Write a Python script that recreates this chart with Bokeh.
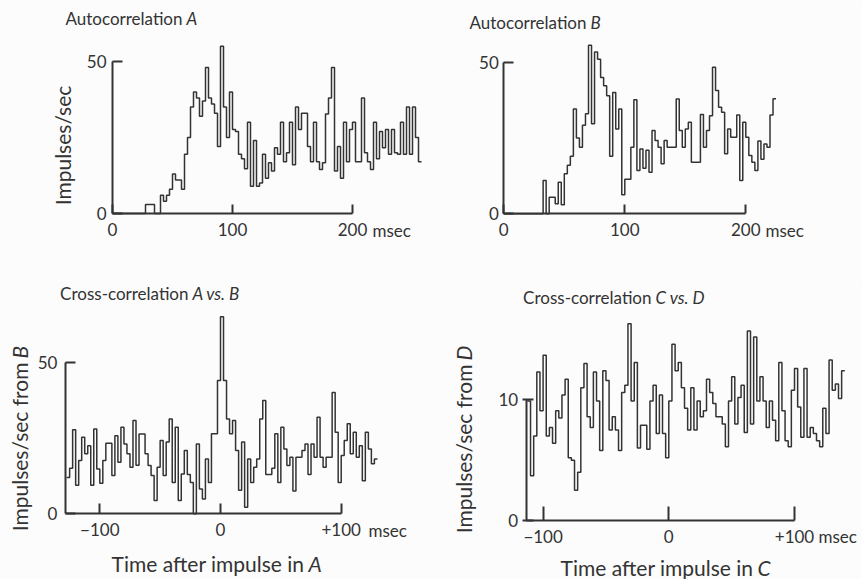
import math
from bokeh.plotting import figure
from bokeh.models import Label, FixedTicker, Range1d
from bokeh.layouts import gridplot
from bokeh.embed import file_html
from bokeh.resources import INLINE

# ---------------- data (impulses/sec per 2.5 ms bin) ----------------
BIN_MS = 2.5

auto_a_start = 0.0
auto_a = [0, 0, 0, 0, 0, 0, 0, 0, 0, 0, 0, 3, 3, 3, 0, 0, 6, 4, 6, 8,
          13, 11, 11, 8, 19.5, 25, 35, 40, 38, 32, 37, 48, 38, 36, 33, 22, 55, 35, 25, 40,
          27.6, 27, 19.5, 18, 14.7, 30, 9, 24, 9, 10, 19.5, 11.6, 16.7, 14, 21.6, 19.5, 30, 17, 20, 30,
          16, 35, 27.6, 33, 33, 22, 17, 30, 17, 14.5, 16.7, 32.7, 38, 48, 14, 22, 11.6, 30, 17, 27.6,
          30, 17, 17, 38, 20, 17, 14.5, 30, 18, 27, 21.6, 27.6, 19.5, 27.6, 20, 19.5, 30, 19.5, 35, 19.5,
          35, 25, 17]

auto_b_start = 0.0
auto_b = [0, 0, 0, 0, 0, 0, 0, 0, 0, 0, 0, 0, 0, 11, 0, 5.5, 5.5, 3.3, 10.4, 3,
          13.2, 16, 19, 34.6, 25, 22, 29.2, 33, 55.6, 29.7, 53.4, 51, 45, 42.3, 39, 19, 40, 28, 34.6, 6.3,
          11.4, 11.4, 22, 37.6, 14.3, 21.4, 15, 21, 13.7, 27.5, 24.2, 22, 16.5, 24.2, 22, 22, 22, 37.9, 27.5, 22,
          28, 30.2, 17, 17, 17, 32.8, 22, 27.5, 32.4, 48.4, 40.7, 35.2, 33.5, 19.8, 28, 25.3, 25.3, 32.6, 11, 30.2,
          25.3, 19.2, 17, 14.3, 24, 18, 23, 22, 32.6, 38]

cross_ab_start = -127.5
cross_ab = [12, 15, 27.7, 9.4, 17.6, 25.3, 19.8, 22.5, 9.4, 28, 14.8, 10.1, 17.6, 23.3, 23.3, 12.6, 25.8, 17, 28.6, 23,
            19.8, 15.4, 30.8, 16, 26.3, 26.3, 19.8, 15.9, 12.6, 4.4, 15.4, 24.2, 12.6, 23.7, 31.3, 10.3, 28.6, 4.4, 13.1, 20.9,
            13, 10.3, 0, 23, 8.2, 4.9, 18.1, 10.3, 26.4, 26.4, 44, 65, 44, 31.3, 26.4, 30.8, 20.9, 7.8, 23.7, 2.2,
            18.1, 10.3, 15.4, 18.1, 31.3, 37.4, 13, 13, 15, 26.4, 10.3, 28.6, 21.4, 15.9, 18.7, 7.5, 18.7, 18.7, 20.9, 23,
            13, 23, 18.7, 31.9, 18.7, 15.4, 18.7, 18.7, 40, 26.9, 10.3, 19.2, 24.2, 29.7, 19.8, 26.9, 18.7, 22.5, 10.9, 26.9,
            21.4, 16.5, 18.1]

cross_cd_start = -112.5
cross_cd = [9.9, 3.7, 7, 12.3, 9.1, 13.7, 7, 7.7, 6.4, 9.1, 8.5, 10.4, 11.7, 5.2, 5, 2.5, 4, 11, 13, 8.6,
            7.7, 12.3, 9.9, 5.8, 12.4, 11.6, 7.5, 8.6, 7.5, 5.8, 10.6, 11.2, 16.3, 9.9, 13.1, 6, 7.9, 7.9, 5.9, 9.9,
            11.2, 7.2, 10.4, 7.2, 5.2, 9.9, 14.6, 12.4, 13.1, 11, 9.3, 7.5, 11, 7.5, 9.9, 8.6, 9.1, 11.7, 10.6, 9.7,
            8.6, 8.6, 8, 6.1, 9.9, 11.9, 8, 10.2, 11.2, 7.3, 15.7, 8, 15.2, 9.9, 11.9, 9.9, 7.7, 9.9, 8.3, 6.6,
            13.1, 9.1, 6.6, 6.1, 10.8, 12.6, 9.4, 6.9, 12.6, 6.9, 7.7, 7.2, 6.6, 6.1, 9.3, 7.2, 13.3, 10.8, 11.3, 10.1,
            12.4]

auto_xticks = [0, 100, 200]
auto_xlabels = ["0", "100", "200"]
auto_yticks = [0, 50]
cross_ab_xticks = [-100, 0, 100]
cross_ab_xlabels = ["\u2212100", "0", "+100"]
cross_ab_yticks = [0, 50]
cross_cd_xticks = [-100, 0, 100]
cross_cd_xlabels = ["\u2212100", "0", "+100"]
cross_cd_yticks = [0, 10]

# ---------------- style ----------------
INK = "#333333"
BG = "#fcfcfc"
FONT = "Lato"
TICK_PX = "17px"
TITLE_SIZE = 17
AXTITLE_SIZE = 21
LW = 1.5


def steps(start, vals):
    xs, ys = [], []
    for i, v in enumerate(vals):
        x0 = start + i * BIN_MS
        xs += [x0, x0 + BIN_MS]
        ys += [v, v]
    return xs, ys


def panel(fig_x, fig_y, W, H, px_x0, xscale, px_y0, yscale):
    """px_x0 / px_y0: page pixel where data x=0 / y=0 fall."""
    def to_data(page_x, page_y):
        return (page_x - px_x0) / xscale, (px_y0 - page_y) / yscale
    x_lo, _ = to_data(fig_x, 0)
    x_hi, _ = to_data(fig_x + W, 0)
    _, y_lo = to_data(0, fig_y + H)
    _, y_hi = to_data(0, fig_y)
    p = figure(width=W, height=H, output_backend="svg", toolbar_location=None,
               x_range=Range1d(x_lo, x_hi), y_range=Range1d(y_lo, y_hi),
               min_border=0, min_border_left=0, min_border_right=0,
               min_border_top=0, min_border_bottom=0,
               background_fill_color=BG, border_fill_color=BG,
               outline_line_color=None)
    p.grid.visible = False
    return p, to_data


def style_axes(p, xticks, xlabels, xbounds, yticks, ybounds, xtick_in, ytick_in,
               ytick_out=0, ystandoff=6):
    xa = p.xaxis[0]
    xa.ticker = FixedTicker(ticks=xticks)
    xa.major_label_overrides = {t: l for t, l in zip(xticks, xlabels)}
    xa.bounds = xbounds
    xa.fixed_location = 0
    ya = p.yaxis[0]
    ya.ticker = FixedTicker(ticks=yticks)
    ya.major_label_overrides = {t: str(t) for t in yticks}
    ya.bounds = ybounds
    ya.fixed_location = xbounds[0]
    for ax in (xa, ya):
        ax.axis_line_color = INK
        ax.axis_line_width = 2
        ax.major_tick_line_color = INK
        ax.major_tick_line_width = 2
        ax.minor_tick_line_color = None
        ax.major_label_text_font = FONT
        ax.major_label_text_font_size = TICK_PX
        ax.major_label_text_color = INK
    xa.major_label_standoff = 9
    ya.major_label_standoff = ystandoff
    xa.major_tick_in = xtick_in
    xa.major_tick_out = 0
    ya.major_tick_in = ytick_in
    ya.major_tick_out = ytick_out


def text(p, to_data, page_x, page_y, s, size, align="center", italic=False, angle=0.0):
    x, y = to_data(page_x, page_y)
    p.add_layout(Label(x=x, y=y, text=s, text_font=FONT, text_font_size=f"{size}px",
                       text_color=INK, text_align=align, text_baseline="middle",
                       angle=angle, angle_units="rad",
                       text_font_style="italic" if italic else "normal"))


# ---------- Autocorrelation A ----------
pa, da = panel(0, 0, 431, 280, 112, 1.2, 213, 3.04)
xs, ys = steps(auto_a_start, auto_a)
pa.line(xs, ys, line_color=INK, line_width=LW)
style_axes(pa, auto_xticks, auto_xlabels, (0, 200), auto_yticks, (0, 50), 9, 10, ystandoff=6)
text(pa, da, 182, 18, "Autocorrelation", TITLE_SIZE, align="right")
text(pa, da, 186, 18, "A", TITLE_SIZE, align="left", italic=True)
text(pa, da, 372, 229.5, "msec", 17, align="left")
text(pa, da, 62, 145, "Impulses/sec", AXTITLE_SIZE, angle=math.pi / 2)

# ---------- Autocorrelation B ----------
pb, db = panel(431, 0, 431, 280, 503.3, 1.21, 213.3, 3.03)
xs, ys = steps(auto_b_start, auto_b)
pb.line(xs, ys, line_color=INK, line_width=LW)
style_axes(pb, auto_xticks, auto_xlabels, (0, 200), auto_yticks, (0, 50), 9, 10, ystandoff=5)
text(pb, db, 586, 22, "Autocorrelation", TITLE_SIZE, align="right")
text(pb, db, 590, 22, "B", TITLE_SIZE, align="left", italic=True)
text(pb, db, 765, 229.5, "msec", 17, align="left")

# ---------- Cross-correlation A vs. B ----------
pc, dc = panel(0, 280, 431, 299, 220, 1.207, 513.3, 3.03)
xs, ys = steps(cross_ab_start, cross_ab)
pc.line(xs, ys, line_color=INK, line_width=LW)
style_axes(pc, cross_ab_xticks, cross_ab_xlabels, (-128.5, 100), cross_ab_yticks, (0, 50), 10, 10, ystandoff=8)
text(pc, dc, 188, 293, "Cross-correlation", TITLE_SIZE, align="right")
text(pc, dc, 192, 293, "A vs. B", TITLE_SIZE, align="left", italic=True)
text(pc, dc, 368, 530, "msec", 17, align="left")
text(pc, dc, 19, 362, "Impulses/sec from", AXTITLE_SIZE, align="right", angle=math.pi / 2)
text(pc, dc, 19, 358, "B", AXTITLE_SIZE, align="left", italic=True, angle=math.pi / 2)
text(pc, dc, 304, 563, "Time after impulse in", AXTITLE_SIZE, align="right")
text(pc, dc, 308, 563, "A", AXTITLE_SIZE, align="left", italic=True)

# ---------- Cross-correlation C vs. D ----------
pd_, dd = panel(431, 280, 431, 299, 668.3, 1.257, 520, 12.07)
xs, ys = steps(cross_cd_start, cross_cd)
pd_.line(xs, ys, line_color=INK, line_width=LW)
style_axes(pd_, cross_cd_xticks, cross_cd_xlabels, (-113.5, 100), cross_cd_yticks, (0, 10), 14, 7, 4, ystandoff=4)
text(pd_, dd, 651, 297, "Cross-correlation", TITLE_SIZE, align="right")
text(pd_, dd, 655, 297, "C vs. D", TITLE_SIZE, align="left", italic=True)
text(pd_, dd, 818, 536, "msec", 17, align="left")
text(pd_, dd, 463, 364, "Impulses/sec from", AXTITLE_SIZE, align="right", angle=math.pi / 2)
text(pd_, dd, 463, 360, "D", AXTITLE_SIZE, align="left", italic=True, angle=math.pi / 2)
text(pd_, dd, 753, 567, "Time after impulse in", AXTITLE_SIZE, align="right")
text(pd_, dd, 757, 567, "C", AXTITLE_SIZE, align="left", italic=True)

grid = gridplot([[pa, pb], [pc, pd_]], toolbar_location=None)

with open("out.html", "w") as f:
    f.write(file_html(grid, INLINE))
